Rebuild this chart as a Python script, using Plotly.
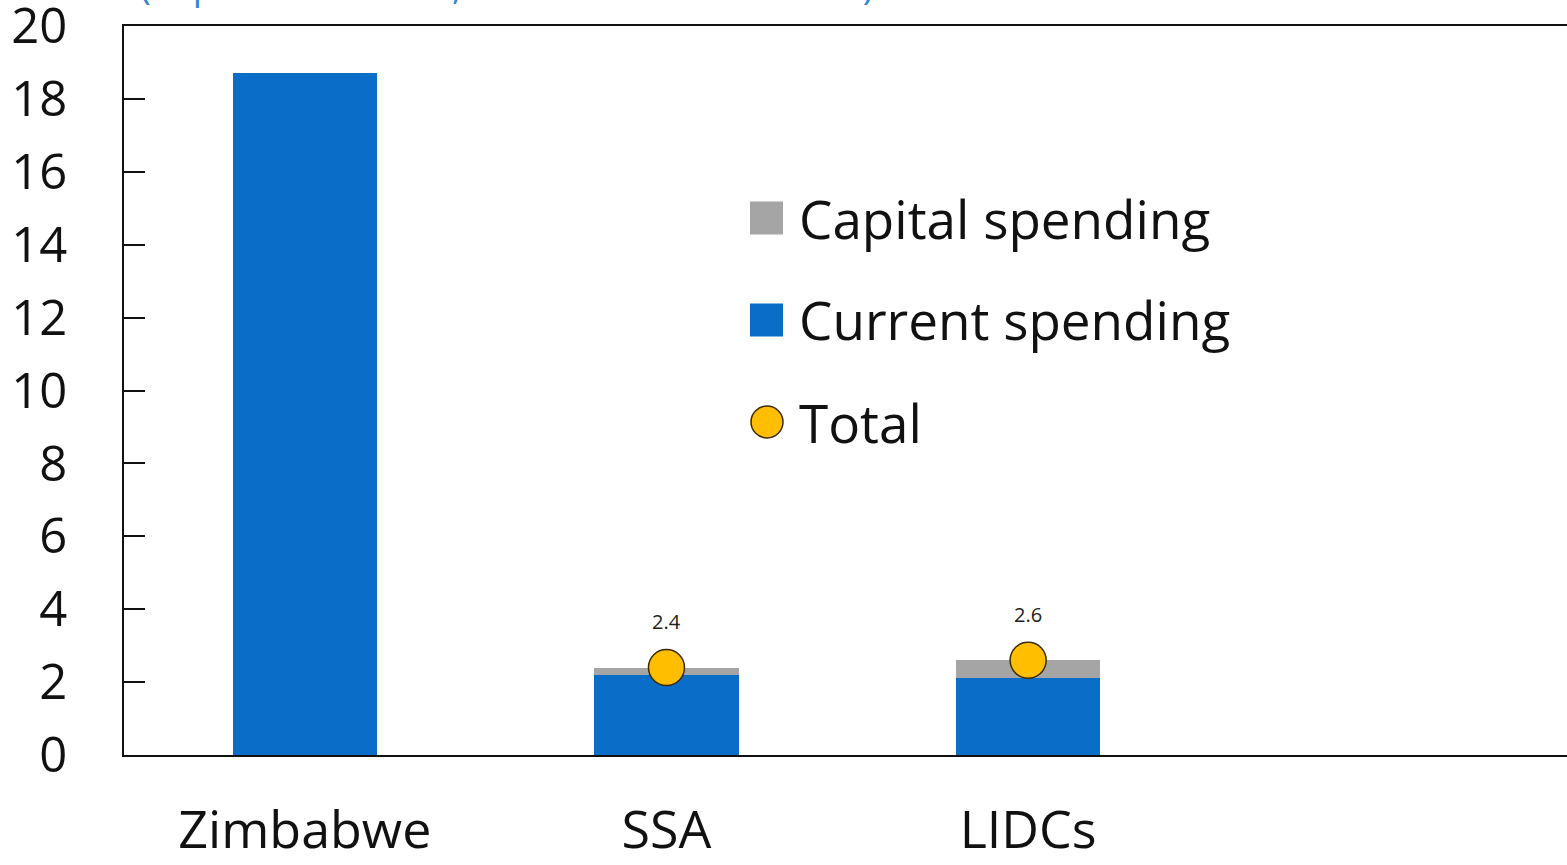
import plotly.graph_objects as go

# Categories and series values (percent of GDP)
categories = ["Zimbabwe", "SSA", "LIDCs"]
current_spending = [18.7, 2.2, 2.1]
capital_spending = [0.0, 0.2, 0.5]
total = [None, 2.4, 2.6]
series_names = ["Capital spending", "Current spending", "Total"]
y_ticks = [0, 2, 4, 6, 8, 10, 12, 14, 16, 18, 20]

BLUE = "#0A6DC8"
GREY = "#A5A5A5"
GOLD = "#FFBE00"
FONT = "Open Sans, Noto Sans, sans-serif"

fig = go.Figure()

fig.add_trace(go.Bar(
    x=categories, y=current_spending, name=series_names[1],
    marker=dict(color=BLUE, line=dict(width=0)), width=0.4,
    showlegend=False,
))
fig.add_trace(go.Bar(
    x=categories, y=capital_spending, name=series_names[0],
    marker=dict(color=GREY, line=dict(width=0)), width=0.4,
    showlegend=False,
))
fig.add_trace(go.Scatter(
    x=categories, y=total, name=series_names[2], mode="markers",
    marker=dict(color=GOLD, size=36, line=dict(color="#3a2a00", width=1.5)),
    showlegend=False, cliponaxis=False,
))

# Value labels above the total markers
for cat, val in zip(categories, total):
    if val is None:
        continue
    fig.add_annotation(
        x=cat, y=val, xref="x", yref="y", text=f"{val:.1f}",
        showarrow=False, yshift=46, font=dict(family=FONT, size=20, color="#222222"),
    )

# Hand-drawn legend (large swatches)
leg_x0, leg_size = 750, 33
rows_y = [218, 320, 422]
W, H, L, T, B = 1567, 865, 124, 26, 110
pw, ph = W - L, H - T - B


def px_to_paper(px, py):
    return (px - L) / pw, 1 - (py - T) / ph


swatches = [GREY, BLUE]
for i, name in enumerate(series_names):
    cy = rows_y[i]
    if i < 2:
        x0, y0 = px_to_paper(leg_x0, cy - leg_size / 2)
        x1, y1 = px_to_paper(leg_x0 + leg_size, cy + leg_size / 2)
        fig.add_shape(type="rect", xref="paper", yref="paper",
                      x0=x0, x1=x1, y0=y1, y1=y0,
                      fillcolor=swatches[i], line=dict(width=0))
    else:
        x0, y0 = px_to_paper(leg_x0 + 1, cy - 16)
        x1, y1 = px_to_paper(leg_x0 + 33, cy + 16)
        fig.add_shape(type="circle", xref="paper", yref="paper",
                      x0=x0, x1=x1, y0=y1, y1=y0,
                      fillcolor=GOLD, line=dict(color="#3a2a00", width=1.5))
    tx, ty = px_to_paper(797, cy)
    fig.add_annotation(
        x=tx, y=ty, xref="paper", yref="paper", text=name,
        xanchor="left", yanchor="middle", showarrow=False,
        font=dict(family=FONT, size=53, color="#111111"),
    )

# Chart subtitle sitting above the plot frame
sx, sy = px_to_paper(138, 12)
fig.add_annotation(
    x=sx, y=sy, xref="paper", yref="paper",
    text="(In percent of GDP, 2019 or latest available)",
    xanchor="left", yanchor="bottom", showarrow=False,
    font=dict(family=FONT, size=36.5, color="#2E86D6"),
)

fig.update_layout(
    width=W, height=H,
    margin=dict(l=L, r=0, t=T, b=B, pad=0, autoexpand=False),
    barmode="stack", bargap=0.6,
    paper_bgcolor="white", plot_bgcolor="white",
    font=dict(family=FONT, color="#111111"),
)
fig.update_xaxes(
    range=[-0.5, 3.49], showgrid=False, zeroline=False, automargin=False,
    showline=True, linecolor="#111111", linewidth=2, mirror=True,
    ticks="", tickfont=dict(size=52, color="#111111"), ticklabelstandoff=29,
)
fig.update_yaxes(
    range=[0, 20], tickvals=y_ticks, showgrid=False, zeroline=False, automargin=False,
    showline=True, linecolor="#111111", linewidth=2, mirror=True,
    ticks="inside", ticklen=21, tickwidth=2, tickcolor="#111111",
    tickfont=dict(size=49, color="#111111"), ticklabelstandoff=45,
    ticklabeloverflow="allow",
)

fig.write_html("out.html")
